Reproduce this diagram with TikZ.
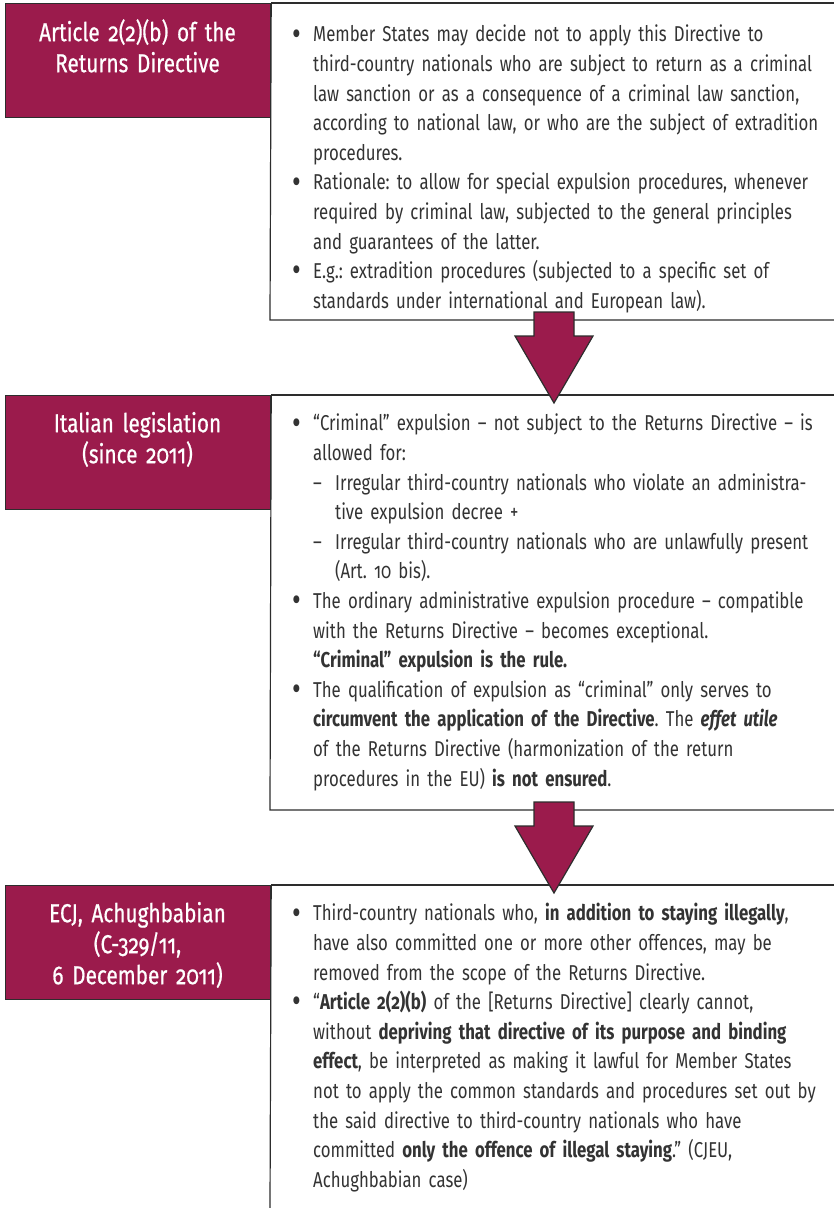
\documentclass[tikz,border=0pt]{standalone}
\usepackage{fontspec}
\setmainfont{Fira Sans}[Numbers=OldStyle, FakeStretch=0.78]
\newfontfamily\headfont{Fira Sans}[Numbers=OldStyle, FakeStretch=0.8, FakeBold=0.6]
\definecolor{maroon}{RGB}{155,27,76}
\definecolor{ink}{RGB}{51,51,51}
\definecolor{rulegray}{RGB}{45,45,45}
\frenchspacing
\newcommand\firstl{\rule{0pt}{24pt}}
\newcommand\bulletmark{\raisebox{-3.2pt}{\scalebox{1.6}{•}}}
\newcommand\bl[1]{\par\noindent\makebox[21pt][l]{\bulletmark}\mbox{#1}}
\newcommand\cl[1]{\par\noindent\hspace*{21pt}\mbox{#1}}
\newcommand\dl[1]{\par\noindent\hspace*{21pt}\makebox[22pt][l]{–}\mbox{#1}}
\newcommand\dcl[1]{\par\noindent\hspace*{43pt}\mbox{#1}}
\tikzset{
  headbox/.style={fill=maroon, draw=rulegray, line width=1.2pt, minimum width=265pt, minimum height=114pt, anchor=north west, inner sep=0pt},
  headtext/.style={text=white, font=\headfont\fontsize{26}{31}\selectfont, align=center, text width=262pt, inner sep=0pt, anchor=north},
  bodytext/.style={text=ink, font=\frenchspacing\fontsize{21.5}{29.6}\selectfont, text width=560pt, inner sep=0pt, anchor=north west},
  sepline/.style={draw=rulegray, line width=1.2pt},
  blockarrow/.style={fill=maroon, draw=rulegray, line width=1.2pt, line join=miter}
}
\begin{document}
\begin{tikzpicture}[x=1pt,y=-1pt]
\useasboundingbox (0,0) rectangle (834,1208);
\fill[white] (0,0) rectangle (834,1208);

% ---------- block 1 ----------
\node[headbox] (h1) at (5,3) {};
\draw[sepline] (h1.north east) -- (834,3);
\draw[sepline] (h1.north east) -- (270,320) coordinate (b1) -- (834,320);
\node[headtext] (h1t) at (137.5,13) {\rule{0pt}{28pt}Article 2(2)(b) of the\\Returns Directive};
\node[bodytext] (t1) at (292,12) {%
\bl{\firstl Member States may decide not to apply this Directive to}
\cl{third-country nationals who are subject to return as a criminal}
\cl{law sanction or as a consequence of a criminal law sanction,}
\cl{according to national law, or who are the subject of extradition}
\cl{procedures.}
\bl{Rationale: to allow for special expulsion procedures, whenever}
\cl{required by criminal law, subjected to the general principles}
\cl{and guarantees of the latter.}
\bl{E.g.: extradition procedures (subjected to a specific set of}
\cl{standards under international and European law).}};

% ---------- block 2 ----------
\node[headbox] (h2) at (5,395) {};
\draw[sepline] (h2.north east) -- (834,395);
\draw[sepline] (h2.north east) -- (270,810) -- (834,810);
\node[headtext] (h2t) at (137.5,404) {\rule{0pt}{28pt}Italian legislation\\(since 2011)};
\node[bodytext] (t2) at (292,401) {%
\bl{\firstl “Criminal” expulsion – not subject to the Returns Directive – is}
\cl{allowed for:}
\dl{Irregular third-country nationals who violate an administra-}
\dcl{tive expulsion decree +}
\dl{Irregular third-country nationals who are unlawfully present}
\dcl{(Art. 10 bis).}
\bl{The ordinary administrative expulsion procedure – compatible}
\cl{with the Returns Directive – becomes exceptional.}
\cl{\textbf{“Criminal” expulsion is the rule.}}
\bl{The qualification of expulsion as “criminal” only serves to}
\cl{\textbf{circumvent the application of the Directive}. The \textit{\textbf{effet utile}}}
\cl{of the Returns Directive (harmonization of the return}
\cl{procedures in the EU) \textbf{is not ensured}.}};

% ---------- block 3 ----------
\node[headbox] (h3) at (5,885) {};
\draw[sepline] (h3.north east) -- (834,885);
\draw[sepline] (h3.north east) -- (270,1208);
\node[headtext] (h3t) at (137.5,894) {\rule{0pt}{28pt}ECJ, Achughbabian\\(C-329/11,\\6 December 2011)};
\node[bodytext] (t3) at (292,891) {%
\bl{\firstl Third-country nationals who, \textbf{in addition to staying illegally},}
\cl{have also committed one or more other offences, may be}
\cl{removed from the scope of the Returns Directive.}
\bl{“\textbf{Article 2(2)(b)} of the [Returns Directive] clearly cannot,}
\cl{without \textbf{depriving that directive of its purpose and binding}}
\cl{\textbf{effect}, be interpreted as making it lawful for Member States}
\cl{not to apply the common standards and procedures set out by}
\cl{the said directive to third-country nationals who have}
\cl{committed \textbf{only the offence of illegal staying}.” (CJEU,}
\cl{Achughbabian case)}};

% ---------- arrows ----------
\draw[blockarrow] (534,312) -- (574,312) -- (574,336) -- (593,336) -- (554,403) -- (515,336) -- (534,336) -- cycle;
\draw[blockarrow] (534,802) -- (574,802) -- (574,826) -- (593,826) -- (554,893) -- (515,826) -- (534,826) -- cycle;
\end{tikzpicture}
\end{document}
